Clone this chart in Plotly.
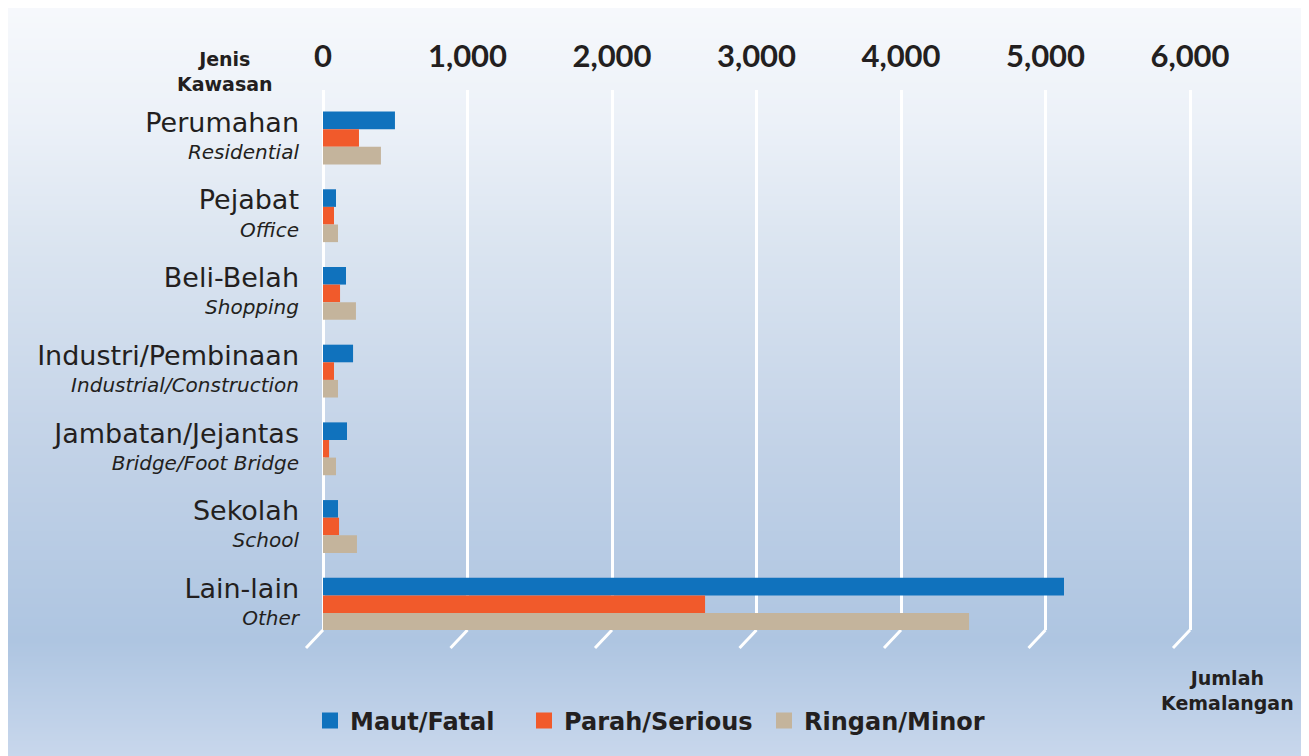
import base64, struct, zlib
import plotly.graph_objects as go

# ---------------- data ----------------
categories = ["Perumahan", "Pejabat", "Beli-Belah", "Industri/Pembinaan",
              "Jambatan/Jejantas", "Sekolah", "Lain-lain"]
categories_en = ["Residential", "Office", "Shopping", "Industrial/Construction",
                 "Bridge/Foot Bridge", "School", "Other"]
fatal = [498, 90, 159, 208, 166, 104, 5128]
serious = [249, 76, 118, 76, 42, 111, 2644]
minor = [401, 104, 228, 104, 90, 235, 4471]
series_names = ["Maut/Fatal", "Parah/Serious", "Ringan/Minor"]
series_colors = ["#1072bd", "#f15a2b", "#c4b49c"]
x_ticks = [0, 1000, 2000, 3000, 4000, 5000, 6000]

OFF = 8                      # page body margin
W, H = 1309 - OFF, 756 - OFF


def px_x(p):
    return (p - OFF) / W


def px_y(p):
    return 1 - (p - OFF) / H


# ---------------- gradient background (PNG data URI) ----------------
stops = [(0, (247, 249, 252)), (120, (236, 241, 248)), (250, (218, 228, 240)),
         (450, (194, 210, 231)), (640, (174, 197, 225)), (756, (200, 215, 236))]


def col_at(y):
    for (y0, c0), (y1, c1) in zip(stops[:-1], stops[1:]):
        if y0 <= y <= y1:
            t = (y - y0) / (y1 - y0)
            return tuple(int(round(a + (b - a) * t)) for a, b in zip(c0, c1))
    return stops[-1][1]


gh, gw = H, 4
raw = b""
for yy in range(gh):
    raw += b"\x00" + bytes(col_at(yy + OFF)) * gw


def chunk(tag, data):
    return struct.pack(">I", len(data)) + tag + data + struct.pack(">I", zlib.crc32(tag + data) & 0xffffffff)


png = b"\x89PNG\r\n\x1a\n" + chunk(b"IHDR", struct.pack(">IIBBBBB", gw, gh, 8, 2, 0, 0, 0)) \
    + chunk(b"IDAT", zlib.compress(raw, 9)) + chunk(b"IEND", b"")
bg_uri = "data:image/png;base64," + base64.b64encode(png).decode()

# ---------------- geometry (reference pixels) ----------------
x_left_px, x_right_px = 300, 1290
zero_px = 323
px_per_unit = 0.1445
x_range = [-(zero_px - x_left_px) / px_per_unit, (x_right_px - zero_px) / px_per_unit]

y_top_px, y_bot_px = 90, 630
y_first_center, y_step = 138, 77.7
y_range = [6 + (y_bot_px - (y_first_center + 6 * y_step)) / y_step,
           -(y_first_center - y_top_px) / y_step]

FONT = "DejaVu Sans"
TXT = "#231f20"

fig = go.Figure()
for name, vals, colr in zip(series_names, [fatal, serious, minor], series_colors):
    fig.add_trace(go.Bar(y=categories, x=vals, orientation="h", name=name,
                         marker=dict(color=colr, line=dict(width=0)), showlegend=False))

# legend entries (one legend each so they can be placed like the reference)
legend_keys = ["legend", "legend2", "legend3"]
legend_x_px = [310, 524, 764]
for name, colr, lk in zip(series_names, series_colors, legend_keys):
    fig.add_trace(go.Scatter(x=[None], y=[None], mode="markers", name=name, legend=lk,
                             marker=dict(symbol="square", size=18, color=colr)))

tick_text = [f'<span style="font-size:27px">{a}</span><br>'
             f'<span style="font-size:20px"><i>{b}</i></span>'
             for a, b in zip(categories, categories_en)]

legend_common = dict(orientation="h", xanchor="left", yanchor="middle", y=px_y(721),
                     font=dict(family=FONT, size=24, color=TXT, weight="bold"),
                     bgcolor="rgba(0,0,0,0)", itemsizing="trace")

fig.update_layout(
    width=W, height=H,
    margin=dict(l=0, r=0, t=0, b=0, autoexpand=False),
    paper_bgcolor="white",
    plot_bgcolor="rgba(0,0,0,0)",
    barmode="group", bargap=0.32, bargroupgap=0,
    font=dict(family=FONT, color=TXT),
    xaxis=dict(domain=[px_x(x_left_px), px_x(x_right_px)], range=x_range,
               side="top", tickvals=x_ticks, tickformat=",", ticks="",
               showgrid=True, gridcolor="white", gridwidth=3, zeroline=False,
               showline=False, automargin=False,
               tickfont=dict(family="Lato", size=31, color=TXT, weight="bold"),
               ticklabelstandoff=16),
    yaxis=dict(domain=[px_y(y_bot_px), px_y(y_top_px)], range=y_range,
               type="category", categoryorder="array", categoryarray=categories,
               tickvals=categories, ticktext=tick_text, ticks="",
               showgrid=False, zeroline=False, showline=False, automargin=False,
               tickfont=dict(family=FONT, size=21, color=TXT)),
    legend=dict(x=px_x(legend_x_px[0]), **legend_common),
    legend2=dict(x=px_x(legend_x_px[1]), **legend_common),
    legend3=dict(x=px_x(legend_x_px[2]), **legend_common),
    images=[dict(source=bg_uri, xref="paper", yref="paper", x=0, y=1,
                 sizex=1, sizey=1, xanchor="left", yanchor="top",
                 sizing="stretch", layer="below")],
    annotations=[
        dict(text="<b>Jenis<br>Kawasan</b>", xref="paper", yref="paper",
             x=px_x(225), y=px_y(71), xanchor="center", yanchor="middle",
             showarrow=False, align="center",
             font=dict(family=FONT, size=19, color=TXT)),
        dict(text="<b>Jumlah<br>Kemalangan</b>", xref="paper", yref="paper",
             x=px_x(1227), y=px_y(690), xanchor="center", yanchor="middle",
             showarrow=False, align="center",
             font=dict(family=FONT, size=19, color=TXT)),
    ],
)

# slanted "floor" ends of the gridlines
for v in x_ticks:
    fig.add_shape(type="line", xref="x", xsizemode="pixel", xanchor=v, x0=0, x1=-17,
                  yref="y domain", ysizemode="pixel", yanchor=0, y0=0, y1=-18,
                  line=dict(color="white", width=3), layer="below")

fig.write_html("out.html")
